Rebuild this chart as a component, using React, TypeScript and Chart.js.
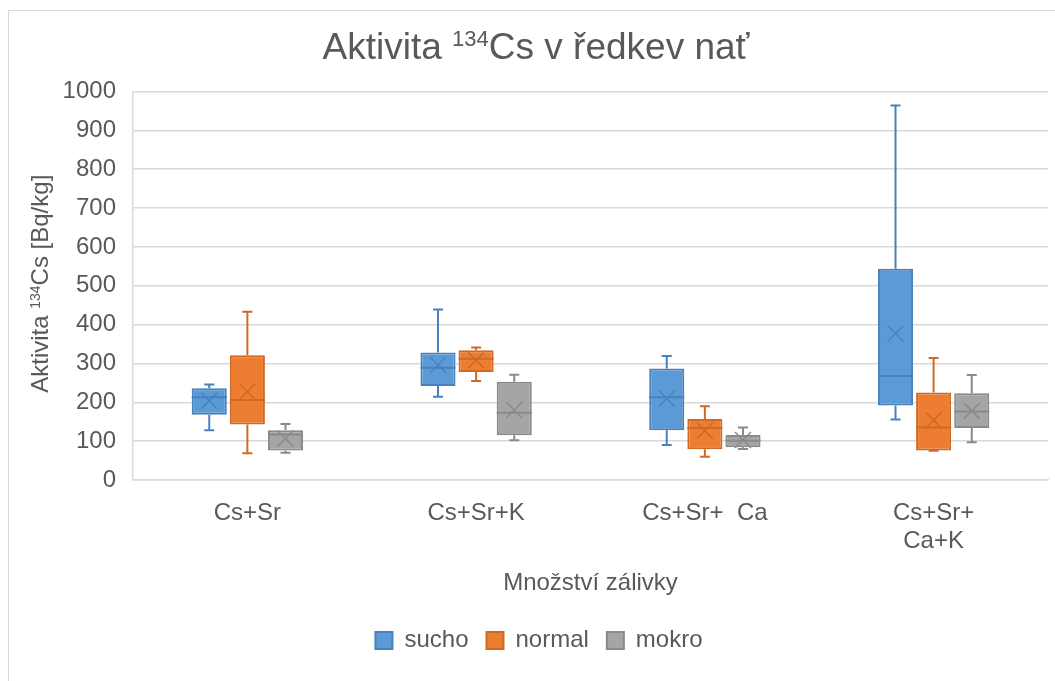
import React, { useEffect, useRef } from "react";
import { Chart, registerables } from "chart.js";

Chart.register(...registerables);

const categories: (string | string[])[] = ["Cs+Sr", "Cs+Sr+K", "Cs+Sr+  Ca", ["Cs+Sr+", "Ca+K"]];
const seriesNames = ["sucho", "normal", "mokro"];

// chart title and y-axis title as [text, isSuperscript] parts
const titleParts: [string, boolean][] = [["Aktivita ", false], ["134", true], ["Cs v ředkev nať", false]];
const yTitleParts: [string, boolean][] = [["Aktivita ", false], ["134", true], ["Cs [Bq/kg]", false]];
const xTitle = "Množství zálivky";

const suchoMin = [128, 214, 90, 156];
const suchoQ1 = [168, 242, 128, 192];
const suchoMedian = [213, 289, 213, 268];
const suchoQ3 = [236, 328, 287, 544];
const suchoMax = [246, 439, 319, 964];
const suchoMean = [204, 296, 210, 377];

const normalMin = [69, 255, 60, 75];
const normalQ1 = [143, 278, 79, 76];
const normalMedian = [206, 312, 134, 135];
const normalQ3 = [321, 334, 157, 225];
const normalMax = [433, 341, 190, 314];
const normalMean = [227, 308, 127, 154];

const mokroMin = [70, 102, 80, 97];
const mokroQ1 = [76, 115, 84, 134];
const mokroMedian = [117, 173, 101, 176];
const mokroQ3 = [128, 253, 116, 223];
const mokroMax = [144, 271, 135, 270];
const mokroMean = [107, 180, 103, 178];

const yTickStep = 100;
const yMin = 0;
const yMax = 1000;

const fills = ["#5B9BD5", "#ED7D31", "#A5A5A5"];
const lines = ["#4A80BE", "#CE6A26", "#8A8A8A"];

const FONT = "'Liberation Sans', Arial, sans-serif";
const TEXT = "#595959";

const stats = [
  { min: suchoMin, q1: suchoQ1, med: suchoMedian, q3: suchoQ3, max: suchoMax, mean: suchoMean },
  { min: normalMin, q1: normalQ1, med: normalMedian, q3: normalQ3, max: normalMax, mean: normalMean },
  { min: mokroMin, q1: mokroQ1, med: mokroMedian, q3: mokroQ3, max: mokroMax, mean: mokroMean },
];

function drawRich(ctx: CanvasRenderingContext2D, parts: [string, boolean][], size: number, cx: number, baseline: number) {
  const supSize = Math.round(size * 0.6);
  const widths = parts.map(([t, sup]) => {
    ctx.font = `${sup ? supSize : size}px ${FONT}`;
    return ctx.measureText(t).width;
  });
  const total = widths.reduce((a, b) => a + b, 0);
  let x = cx - total / 2;
  ctx.textAlign = "left";
  ctx.textBaseline = "alphabetic";
  ctx.fillStyle = TEXT;
  parts.forEach(([t, sup], i) => {
    ctx.font = `${sup ? supSize : size}px ${FONT}`;
    ctx.fillText(t, x, sup ? baseline - size * 0.33 : baseline);
    x += widths[i];
  });
}

const titlesPlugin = {
  id: "richTitles",
  afterDraw(chart: any) {
    const ctx = chart.ctx;
    const area = chart.chartArea;
    ctx.save();
    drawRich(ctx, titleParts, 37, 527, 47.5);
    ctx.restore();
    ctx.save();
    ctx.translate(39, (area.top + area.bottom) / 2 - 2);
    ctx.rotate(-Math.PI / 2);
    drawRich(ctx, yTitleParts, 24, 0, 0);
    ctx.restore();
  },
};

const boxPlugin = {
  id: "boxWhiskers",
  afterDatasetsDraw(chart: any) {
    const ctx = chart.ctx;
    const ys = chart.scales.y;
    stats.forEach((s, di) => {
      const meta = chart.getDatasetMeta(di);
      if (meta.hidden) return;
      meta.data.forEach((bar: any, j: number) => {
        const { x, width } = bar.getProps(["x", "width"], true);
        const pMin = ys.getPixelForValue(s.min[j]);
        const pQ1 = ys.getPixelForValue(s.q1[j]);
        const pMed = ys.getPixelForValue(s.med[j]);
        const pQ3 = ys.getPixelForValue(s.q3[j]);
        const pMax = ys.getPixelForValue(s.max[j]);
        const pMean = ys.getPixelForValue(s.mean[j]);
        const cap = 5;
        ctx.save();
        ctx.strokeStyle = lines[di];
        ctx.lineWidth = 2;
        ctx.beginPath();
        ctx.moveTo(x, pQ3);
        ctx.lineTo(x, pMax);
        ctx.moveTo(x - cap, pMax);
        ctx.lineTo(x + cap, pMax);
        ctx.moveTo(x, pQ1);
        ctx.lineTo(x, pMin);
        ctx.moveTo(x - cap, pMin);
        ctx.lineTo(x + cap, pMin);
        ctx.stroke();
        ctx.beginPath();
        ctx.moveTo(x - width / 2, pMed);
        ctx.lineTo(x + width / 2, pMed);
        ctx.stroke();
        const m = 8;
        ctx.lineWidth = 1.5;
        ctx.beginPath();
        ctx.moveTo(x - m, pMean - m);
        ctx.lineTo(x + m, pMean + m);
        ctx.moveTo(x - m, pMean + m);
        ctx.lineTo(x + m, pMean - m);
        ctx.stroke();
        ctx.restore();
      });
    });
  },
};

export default function App() {
  const ref = useRef<HTMLCanvasElement | null>(null);

  useEffect(() => {
    if (!ref.current) return;
    const chart = new Chart(ref.current, {
      type: "bar",
      data: {
        labels: categories,
        datasets: stats.map((s, i) => ({
          label: seriesNames[i],
          data: s.q1.map((v, j) => [v, s.q3[j]]),
          backgroundColor: fills[i],
          borderColor: lines[i],
          borderWidth: 2,
          borderSkipped: false,
          categoryPercentage: 0.5,
          barPercentage: 0.92,
        })) as any,
      },
      options: {
        responsive: false,
        devicePixelRatio: 1,
        animation: false,
        layout: { padding: { left: 21, right: 7, top: 80.5, bottom: 18.5 } },
        plugins: {
          tooltip: { enabled: false },
          title: { display: false },
          legend: {
            position: "bottom",
            labels: {
              boxWidth: 17,
              boxHeight: 17,
              padding: 18,
              color: TEXT,
              font: { family: FONT, size: 24 },
            },
          },
        },
        scales: {
          x: {
            type: "category",
            offset: true,
            grid: { display: false, drawTicks: false },
            border: { display: true, color: "#D9D9D9", width: 1.5 },
            ticks: {
              padding: 19,
              color: TEXT,
              maxRotation: 0,
              autoSkip: false,
              font: { family: FONT, size: 24, lineHeight: 28 / 24 },
            },
            title: {
              display: true,
              text: xTitle,
              color: TEXT,
              font: { family: FONT, size: 24 },
              padding: { top: 0, bottom: 13.1 },
            },
            afterFit: (s: any) => {
              s.height = 130.5;
            },
          },
          y: {
            min: yMin,
            max: yMax,
            grid: { color: "#D9D9D9", lineWidth: 1.5, drawTicks: false },
            border: { display: true, color: "#D9D9D9", width: 1.5 },
            ticks: {
              stepSize: yTickStep,
              padding: 17,
              color: TEXT,
              font: { family: FONT, size: 24 },
              callback: (v: any) => String(v),
            },
            title: { display: false },
            afterFit: (s: any) => {
              s.width = 103;
            },
          },
        },
      } as any,
      plugins: [boxPlugin, titlesPlugin],
    });
    return () => chart.destroy();
  }, []);

  return (
    <div
      style={{
        position: "absolute",
        left: 8,
        top: 10,
        width: 1047,
        height: 671,
        boxSizing: "border-box",
        borderLeft: "1px solid #D9D9D9",
        borderTop: "1px solid #D9D9D9",
        background: "#FFFFFF",
      }}
    >
      <canvas ref={ref} width={1046} height={670} style={{ display: "block", width: 1046, height: 670 }} />
    </div>
  );
}
